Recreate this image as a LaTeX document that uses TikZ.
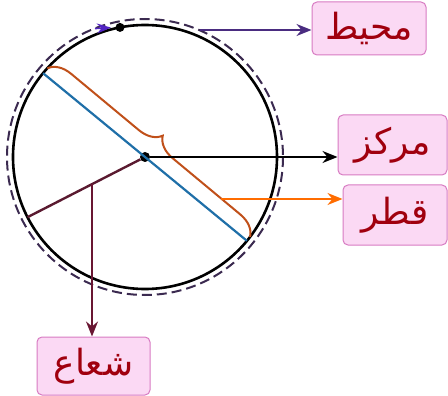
\documentclass[tikz,border=0pt]{standalone}
\usepackage{fontspec}
\usepackage{xcolor}
\newfontfamily\arabicfont[Script=Arabic]{DejaVu Sans}
\TeXXeTstate=1
\usepackage{tikz}
\usetikzlibrary{arrows.meta,decorations.pathreplacing}

\definecolor{boxfill}{HTML}{FBD9F4}
\definecolor{boxline}{HTML}{D77BC2}
\definecolor{wordred}{HTML}{A0000E}
\definecolor{rimdash}{HTML}{3B2A50}
\definecolor{diamblue}{HTML}{1F6FA8}
\definecolor{bracered}{HTML}{C0501A}
\definecolor{radmaroon}{HTML}{5A1A30}
\definecolor{rimpurple}{HTML}{4A2C80}
\definecolor{tipblue}{HTML}{5224C2}

\begin{document}
\begin{tikzpicture}[
    x=1pt, y=-1pt,
    >={Stealth[length=15pt, width=12pt]},
    word/.style={
        rectangle, draw=boxline, fill=boxfill,
        rounded corners=5pt, inner sep=0pt, line width=1pt,
        font=\arabicfont\fontsize{36}{40}\selectfont,
        text=wordred
    },
    dot/.style={circle, fill=black, inner sep=0pt, minimum size=#1},
    arr/.style={->, line width=1.8pt},
]
\useasboundingbox (0,0) rectangle (448,396);

% ── Circle ──
\node[dot=10pt] (O) at (145,157) {};
\node[dot=9pt] (P) at (120,27.4) {};
\draw[rimdash, line width=2pt, dash pattern=on 10pt off 5pt]
    (O) circle[radius=138];
\draw[line width=2.6pt] (O) circle[radius=132];

% ── Diameter and brace ──
\coordinate (d1) at (43.1,73.2);
\coordinate (d2) at (246.9,240.8);
\draw[diamblue, line width=2.2pt] (d1) -- (d2);
\coordinate (b1) at (47.3,68.3);
\coordinate (b2) at (250.1,236.9);
\draw[bracered, line width=2pt, decorate,
      decoration={brace, amplitude=22pt}] (b1) -- (b2);

% ── Radius ──
\coordinate (r1) at (27.5,217.2);
\draw[radmaroon, line width=2.4pt] (O) -- (r1);
\coordinate (rp) at (92,184.2);

% ── Labels ──
\node[word, minimum width=114pt, minimum height=53pt]
    (muhit) at (369,28.5) {\beginR محيط\endR};
\node[word, minimum width=109pt, minimum height=60pt]
    (markaz) at (392.5,145) {\beginR مركز\endR};
\node[word, minimum width=104pt, minimum height=60pt]
    (qutr) at (395,215) {\beginR قطر\endR};
\node[word, minimum width=113pt, minimum height=58pt]
    (shuaa) at (93.5,366) {\beginR شعاع\endR};

% ── Arrows ──
\coordinate (cp) at (200,30);
\coordinate (qp) at (221,199);
\draw[arr, rimpurple] (cp) -- (cp -| muhit.west);
\draw[arr, black] (O) -- (O -| markaz.west);
\draw[arr, orange!85!red] (qp) -- (qp -| qutr.west);
\draw[arr, radmaroon!85!purple] (rp) -- (rp |- shuaa.north);
\draw[-{Stealth[length=14pt, width=10pt]}, tipblue, line width=1.5pt]
    (95,28.6) -- (111,27.6);

\end{tikzpicture}
\end{document}
